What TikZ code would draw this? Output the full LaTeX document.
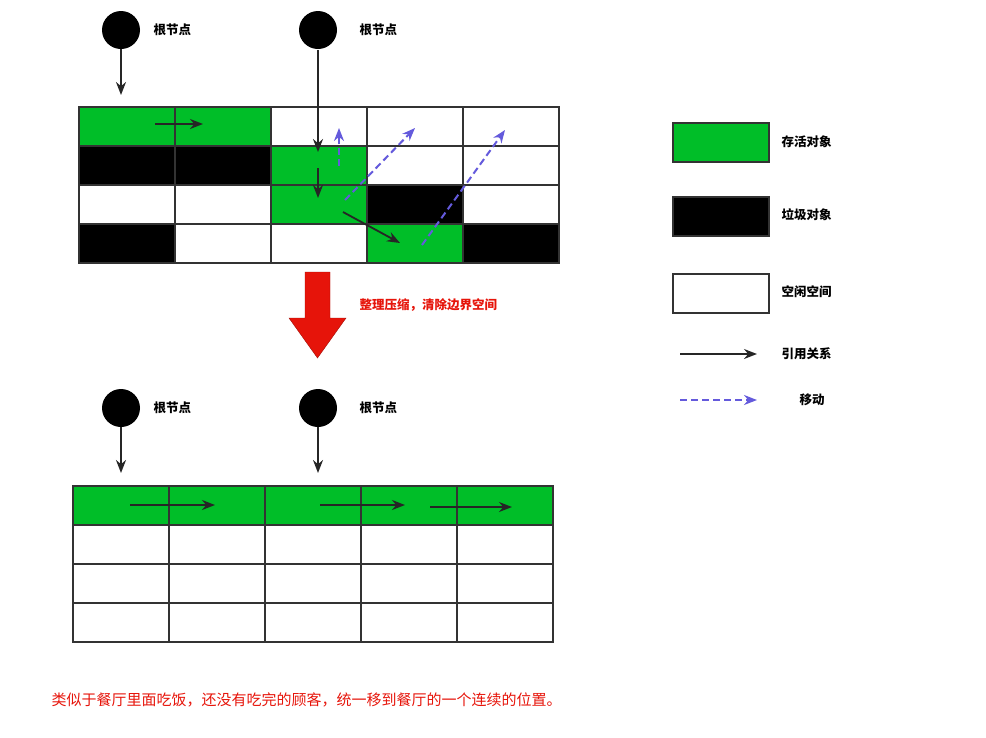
\documentclass[tikz,border=0pt]{standalone}
\usepackage{fontspec}
\newfontfamily\cjk{Noto Sans CJK SC}
\usetikzlibrary{arrows.meta}
\definecolor{gr}{RGB}{0,190,40}
\definecolor{mv}{RGB}{100,90,220}
\definecolor{rd}{RGB}{230,20,10}
\tikzset{
 cell/.style={draw=black!80,line width=2.2pt,minimum width=96pt,minimum height=39pt,inner sep=0,anchor=north west},
 G/.style={cell,fill=gr},B/.style={cell,fill=black},W/.style={cell,fill=white},
 root/.style={circle,fill=black,minimum size=38pt,inner sep=0},
 lab/.style={font=\cjk\bfseries\fontsize{12.5pt}{12.5pt}\selectfont,anchor=west},
 ref/.style={-{Stealth[length=13pt,width=10pt]},line width=1.8pt,draw=black!85},
 mov/.style={-{Stealth[length=13pt,width=10pt]},line width=2pt,draw=mv,dash pattern=on 7pt off 4pt}
}
\begin{document}
\begin{tikzpicture}[x=1pt,y=-1pt]
\useasboundingbox (0,0) rectangle (986,737);
\foreach \r/\row in {0/{G,G,W,W,W},1/{B,B,G,W,W},2/{W,W,G,B,W},3/{B,W,W,G,B}}{
 \foreach \t [count=\c from 0] in \row {\node[\t] (t\r\c) at (78+96*\c,106+39*\r) {};}}
\node[root] (r1) at (121,30) {}; \node[lab] at (150,30) {根节点};
\node[root] (r2) at (318,30) {}; \node[lab] at (356,30) {根节点};
\coordinate (a1) at (121,95); \draw[ref] (r1) -- (a1);
\coordinate (a2) at (318,152); \draw[ref] (318,50) -- (a2);
\coordinate (p1) at (155,124); \coordinate (p2) at (203,124); \draw[ref] (p1) -- (p2);
\coordinate (p3) at (318,168); \coordinate (p4) at (318,198); \draw[ref] (p3) -- (p4);
\coordinate (p5) at (343,212); \coordinate (p6) at (400,243); \draw[ref] (p5) -- (p6);
\coordinate (m1) at (339,166); \coordinate (m2) at (339,128); \draw[mov] (m1) -- (m2);
\coordinate (m3) at (345,200); \coordinate (m4) at (415,128); \draw[mov] (m3) -- (m4);
\coordinate (m5) at (422,245); \coordinate (m6) at (505,130); \draw[mov] (m5) -- (m6);
\fill[rd,draw=rd!70!black] (305,272) -- (330,272) -- (330,318) -- (346,318) -- (317.5,358) -- (289,318) -- (305,318) -- cycle;
\node[lab,text=rd] at (356,305) {整理压缩，清除边界空间};
\foreach \r/\row in {0/{G,G,G,G,G},1/{W,W,W,W,W},2/{W,W,W,W,W},3/{W,W,W,W,W}}{
 \foreach \t [count=\c from 0] in \row {\node[\t] (b\r\c) at (72+96*\c,485+39*\r) {};}}
\node[root] (r3) at (121,408) {}; \node[lab] at (150,408) {根节点};
\node[root] (r4) at (318,408) {}; \node[lab] at (356,408) {根节点};
\coordinate (a3) at (121,473); \draw[ref] (r3) -- (a3);
\coordinate (a4) at (318,473); \draw[ref] (r4) -- (a4);
\coordinate (q1) at (130,505); \coordinate (q2) at (215,505); \draw[ref] (q1) -- (q2);
\coordinate (q3) at (320,505); \coordinate (q4) at (405,505); \draw[ref] (q3) -- (q4);
\coordinate (q5) at (430,507); \coordinate (q6) at (512,507); \draw[ref] (q5) -- (q6);
\node[G] (l1) at (672,122) {}; \node[lab] at (778,142) {存活对象};
\node[B] (l2) at (672,196) {}; \node[lab] at (778,215) {垃圾对象};
\node[W] (l3) at (672,273) {}; \node[lab] at (778,292) {空闲空间};
\coordinate (e1) at (680,354); \coordinate (e2) at (757,354); \draw[ref] (e1) -- (e2);
\node[lab] at (778,354) {引用关系};
\coordinate (e3) at (680,400); \coordinate (e4) at (757,400); \draw[mov] (e3) -- (e4);
\node[lab] at (796,400) {移动};
\node[anchor=west,text=rd,font=\cjk\fontsize{15pt}{15pt}\selectfont] at (48,700) {类似于餐厅里面吃饭，还没有吃完的顾客，统一移到餐厅的一个连续的位置。};
\end{tikzpicture}
\end{document}
